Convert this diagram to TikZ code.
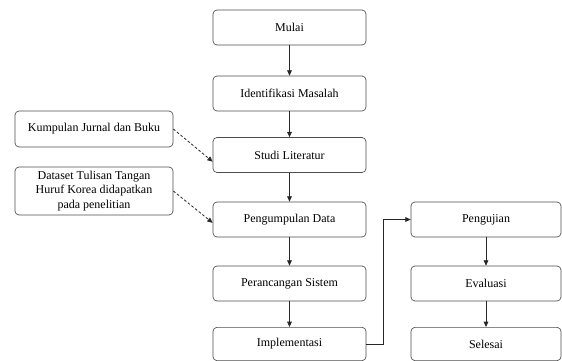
\documentclass[tikz,border=0pt]{standalone}
\usepackage{fontspec}
\setmainfont{Liberation Serif}
\newfontfamily\tnr{Liberation Serif}
\usetikzlibrary{arrows.meta}
\begin{document}
\begin{tikzpicture}[x=0.75pt,y=-0.75pt,
  box/.style={draw=black!70,rounded corners=3pt,line width=0.5pt,inner sep=0pt,
    minimum width=114.75pt,minimum height=26.25pt,font=\tnr\fontsize{9}{10.8}\selectfont,align=center},
  rbox/.style={box,minimum width=112.5pt},
  sbox/.style={box,minimum width=118.5pt},
  arr/.style={draw=black!85,line width=0.6pt,-{Triangle[length=4pt,width=3.5pt]}},
  darr/.style={arr,dash pattern=on 2pt off 1.5pt}]
\useasboundingbox (0,0) rectangle (562,361);
\node[box] (mulai) at (289.5,27.5) {Mulai};
\node[box] (ident) at (289.5,93.5) {Identifikasi Masalah};
\node[box] (studi) at (289.5,155) {Studi Literatur};
\node[box] (kumpul) at (289.5,219.5) {Pengumpulan Data};
\node[box] (rancang) at (289.5,283.5) {Perancangan Sistem};
\node[box,minimum height=25pt] (impl) at (289.5,344) {Implementasi};
\node[rbox] (uji) at (486,219.5) {Pengujian};
\node[rbox] (eval) at (486,283.5) {Evaluasi};
\node[rbox,minimum height=25pt] (selesai) at (486,344) {Selesai};
\node[sbox,minimum height=27pt] (jurnal) at (94,129) {Kumpulan Jurnal dan Buku};
\node[sbox,minimum height=36pt] (dataset) at (94,191) {Dataset Tulisan Tangan\\Huruf Korea didapatkan\\pada penelitian};
\draw[arr] (mulai) -- (ident);
\draw[arr] (ident) -- (studi);
\draw[arr] (studi) -- (kumpul);
\draw[arr] (kumpul) -- (rancang);
\draw[arr] (rancang) -- (impl);
\draw[arr] (uji) -- (eval);
\draw[arr] (eval) -- (selesai);
\coordinate (bend) at (383,0);
\draw[arr] (impl.east) -| (bend |- uji.west) -- (uji.west);
\draw[darr] (jurnal.east) -- ([yshift=-5pt]studi.west);
\draw[darr] (dataset.east) -- ([yshift=-2.5pt]kumpul.west);
\end{tikzpicture}
\end{document}
